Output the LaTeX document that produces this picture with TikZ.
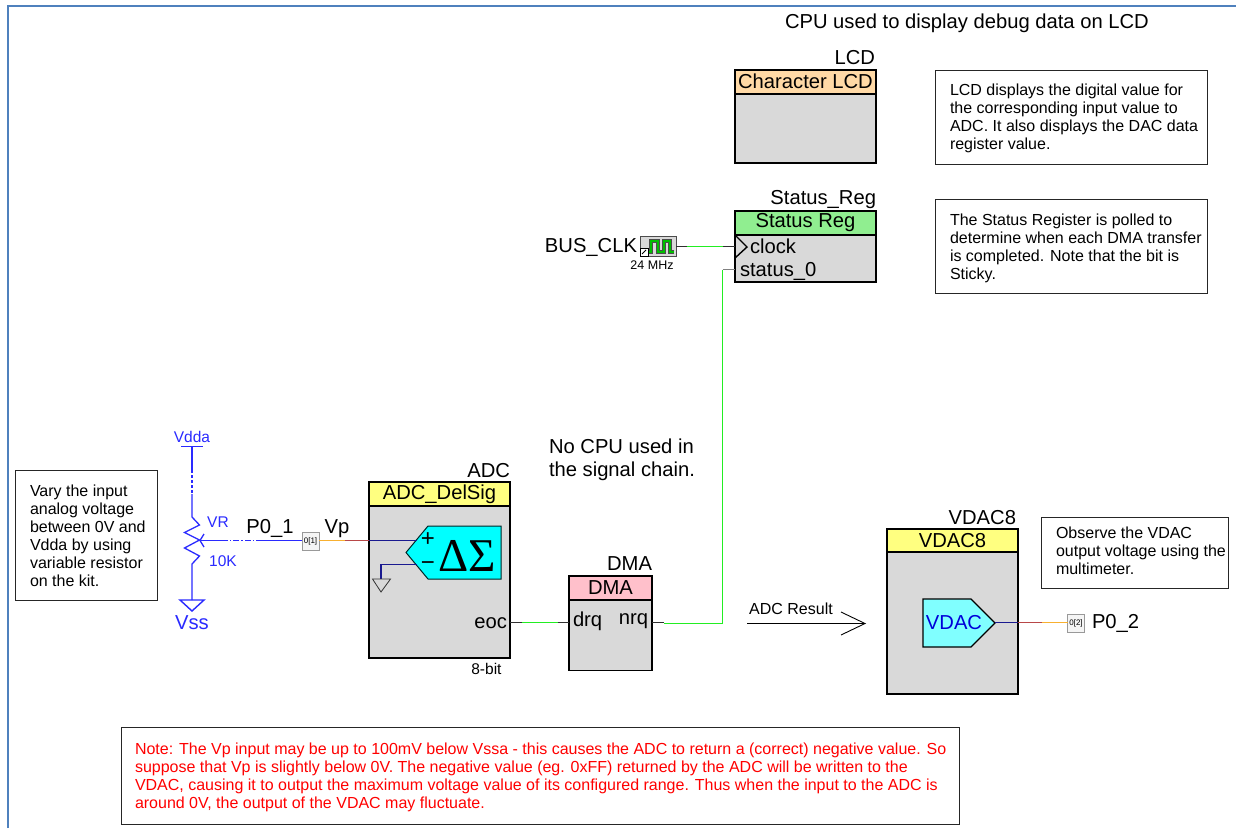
\documentclass[tikz,border=0pt]{standalone}
\usepackage{fontspec}
\setmainfont{Liberation Sans}
\newfontfamily\dsfont{Liberation Serif}
\usetikzlibrary{calc}
\definecolor{frameblue}{HTML}{4F81BD}
\definecolor{bodygrey}{HTML}{D9D9D9}
\definecolor{lcdhead}{HTML}{FFD9A6}
\definecolor{reghead}{HTML}{90EE90}
\definecolor{dmahead}{HTML}{FFC0CB}
\definecolor{yelhead}{HTML}{FFFF80}
\definecolor{netblue}{HTML}{2A2AFF}
\definecolor{wiregreen}{HTML}{22EE22}
\definecolor{wiredark}{HTML}{303030}
\definecolor{wirenavy}{HTML}{1A1A90}
\definecolor{wirered}{HTML}{B84848}
\definecolor{wireorange}{HTML}{F8B030}
\definecolor{dsblue}{HTML}{00FFFF}
\definecolor{vdacfill}{HTML}{80FFFF}
\newcommand{\fs}[1]{\fontsize{#1}{#1}\selectfont}
\tikzset{
  x=1pt,y=-1pt,
  every node/.style={inner sep=0pt,outer sep=0pt},
  bodybox/.style={draw=black,line width=1.6pt,fill=bodygrey,minimum width=#1,anchor=north west},
  headbox/.style={draw=black,line width=1.6pt,minimum width=#1,minimum height=24pt,anchor=north west,font=\fs{20.2}},
  title/.style={font=\fs{20.2},anchor=east},
  port/.style={font=\fs{20.2}},
  note/.style={draw=black!85,line width=0.8pt,fill=white,anchor=north west,minimum width=#1},
  notetext/.style={font=\fontsize{16}{18}\selectfont,align=left,anchor=north west},
  pinbox/.style={draw=black!40,line width=1pt,fill=white!96!black,minimum width=17pt,minimum height=18pt,font=\fs{8}},
  wire/.style={line width=1.5pt},
  thinwire/.style={line width=1.05pt},
  bluewire/.style={netblue,line width=1.3pt},
}
\begin{document}
\begin{tikzpicture}
\useasboundingbox (0,0) rectangle (1236,828);
\fill[white] (0,0) rectangle (1236,828);
\draw[frameblue,line width=2pt] (8,828) -- (8,5.5) -- (1236,5.5);

\node[font=\fs{20.2},anchor=west] (head) at (785,23) {CPU used to display debug data on LCD};
\node[font=\fontsize{20.2}{23}\selectfont,align=left,anchor=north west] (nocpu) at (549,438.5) {No CPU used in\\the signal chain.};

% LCD
\node[bodybox=141pt,minimum height=93pt] (lcd) at (735,70) {};
\node[headbox=141pt,fill=lcdhead] (lcdh) at (735,70) {\raisebox{1pt}{Character LCD}};
\node[title] (lcdt) at (875,58) {LCD};

% Status reg
\node[bodybox=141pt,minimum height=71pt] (reg) at (735,211) {};
\node[headbox=141pt,fill=reghead] (regh) at (735,211) {\raisebox{-1pt}{Status Reg}};
\node[title] (regt) at (876,200) {Status\_Reg};
\node[port,anchor=west] (clockl) at (750,246) {clock};
\node[port,anchor=west] (statusl) at (740,271) {status\_0};
\draw[black,line width=1.4pt,fill=none] (reg.west |- 0,235) -- (747,247) -- (reg.west |- 0,258);

% Clock
\node[draw=black!70,line width=0.8pt,fill=bodygrey,minimum width=36pt,minimum height=20pt,anchor=north west] (clk) at (640,236) {};
\draw[black!70,line width=3.6pt,line join=miter] (646,252) -- (651,252) -- (651,241) -- (658,241) -- (658,252) -- (664,252) -- (664,241) -- (670,241) -- (670,252) -- (674,252);
\draw[green!75!black,line width=2.2pt,line join=miter] (646,252) -- (651,252) -- (651,241) -- (658,241) -- (658,252) -- (664,252) -- (664,241) -- (670,241) -- (670,252) -- (674,252);
\draw[black,fill=white,line width=0.5pt] (640,248) rectangle (648,256);
\draw[black,line width=0.9pt] (642,254) -- (646,250);
\node[title] (busclk) at (637,247) {BUS\_CLK};
\node[font=\fs{12.5}] (mhz) at (652,265.5) {24 MHz};

\draw[wire,wiredark] (clk.east |- 0,246.5) -- (reg.west |- 0,246.5);
\draw[wire,wiregreen,shorten <=11pt,shorten >=12pt] (clk.east |- 0,246.5) -- (reg.west |- 0,246.5);

% ADC
\node[bodybox=141pt,minimum height=176pt] (adc) at (369,482) {};
\node[headbox=141pt,fill=yelhead] (adch) at (369,482) {ADC\_DelSig};
\node[title] (adct) at (510,471) {ADC};
\node[font=\fs{15.5},anchor=east] (eightbit) at (501.5,668.5) {8-bit};
\node[port,anchor=east] (eocl) at (507,623) {eoc};
\draw[black!70!teal,line width=1pt,fill=dsblue] (406,552.5) -- (428,526) -- (501,526) -- (501,579) -- (428,579) -- cycle;
\node[font=\fs{24}] (plus) at (428,539.5) {+};
\node[font=\fs{24}] (minus) at (428,566) {−};
\node[font=\dsfont\fontsize{47}{47}\selectfont] (ds) at (467,556) {ΔΣ};
\coordinate (dsplus) at (417,540.5);
\coordinate (dsminus) at (417,564.5);
\coordinate (gndtop) at (381,579);
\draw[wire,wirenavy] (dsminus) -| (gndtop);
\draw[black!80,line width=0.8pt,fill=none] (372.5,579) -- (390.5,579) -- (381,592) -- cycle;

% Input pin and Vp wire
\node[pinbox] (pin1) at (310.5,541) {0[1]};
\node[port] (vp) at (337,529) {Vp};
\node[port] (p01) at (270,528) {P0\_1};
\draw[wire,wireorange] (pin1.east |- dsplus) -- (345,540.5);
\draw[wire,wirered] (345,540.5) -- (adc.west |- dsplus);
\draw[wire,wirenavy] (adc.west |- dsplus) -- (dsplus);

% Resistor network
\node[font=\fs{15.5},text=netblue] (vdda) at (192,436.5) {Vdda};
\node[font=\fs{20.2},text=netblue] (vss) at (192,623) {Vss};
\node[font=\fs{15.5},text=netblue] (vr) at (218,522) {VR};
\node[font=\fs{15.5},text=netblue] (tenk) at (223,561.5) {10K};
\coordinate (restop) at (192,517);
\coordinate (resbot) at (192,564);
\draw[netblue,line width=1pt] (181,446.5) -- (203,446.5);
\draw[bluewire] (192,446) -- (192,470);
\draw[bluewire,densely dashed] (192,470) -- (192,494);
\draw[bluewire,line join=miter] (192,494) -- (restop) -- (199.5,525) -- (184.5,532.5) -- (199.5,540) -- (184.5,548) -- (199.5,556) -- (resbot) -- (192,600);
\draw[netblue,line width=1.4pt] (180,600) -- (204,600) -- (192,611) -- cycle;
\draw[bluewire] (pin1.west |- dsplus) -- (262,540.5);
\draw[bluewire,dash pattern=on 6pt off 2pt on 1.5pt off 2pt] (262,540.5) -- (228,540.5);
\draw[bluewire] (228,540.5) -- (201,540.5);
\draw[bluewire] (204,534) -- (200,540.5) -- (204,547);

% DMA
\node[bodybox=83pt,minimum height=94.5pt] (dma) at (569,576) {};
\node[headbox=83pt,fill=dmahead] (dmah) at (569,576) {DMA};
\node[title] (dmat) at (652,564) {DMA};
\node[port,anchor=west] (drql) at (573,621) {drq};
\node[port,anchor=east] (nrql) at (648,621) {nrq};

\coordinate (eocw) at (522,622.9);
\coordinate (drqw) at (558,622.9);
\draw[thinwire,wiredark] (adc.east |- eocw) -- (eocw);
\draw[thinwire,wiregreen] (eocw) -- (drqw);
\draw[thinwire,wiredark] (drqw) -- (dma.west |- drqw);
\coordinate (bend) at (722.5,623.5);
\coordinate (bendtop) at (722.5,269.5);
\coordinate (nrqw) at (664,622.9);
\draw[thinwire,wiredark] (dma.east |- nrqw) -- (nrqw);
\draw[wire,wiregreen] (664,623.5) -- (bend) -- (bendtop);
\draw[wire,black!50] (bendtop) -- (reg.west |- bendtop);

% ADC result arrow
\node[font=\fs{16}] (adcres) at (791,609) {ADC Result};
\coordinate (resa) at (747,623.5);
\coordinate (resb) at (865,623.5);
\draw[black,line width=0.9pt] (resa) -- (resb);
\draw[black,line width=0.9pt] (841,612) -- (resb) -- (841,635);

% VDAC8
\node[bodybox=131pt,minimum height=165pt] (vdac) at (887,529) {};
\node[headbox=131pt,fill=yelhead,minimum height=23pt] (vdach) at (887,529) {VDAC8};
\node[title] (vdact) at (1016,517.5) {VDAC8};
\draw[black,line width=1.3pt,fill=vdacfill] (923,599) -- (971,599) -- (995,623) -- (971,647) -- (923,647) -- cycle;
\node[font=\fs{20.2},text=blue!85!black] (vdacl) at (954,623) {VDAC};
\coordinate (vout) at (995,622.9);
\coordinate (vmid) at (1042,622.9);
\node[pinbox] (pin2) at (1076,623) {0[2]};
\node[port,anchor=west] (p02) at (1092,623.5) {P0\_2};
\draw[thinwire,wirenavy] (vout) -- (vdac.east |- vout);
\draw[thinwire,wirered] (vdac.east |- vout) -- (vmid);
\draw[thinwire,wireorange] (vmid) -- (pin2.west |- vout);

% Notes
\node[note=272pt,minimum height=94pt] (n1) at (935,70) {};
\node[notetext] (n1t) at (950,84) {LCD displays the digital value for\\the corresponding input value to\\ADC. It also displays the DAC data\\register value.};
\node[note=272pt,minimum height=94pt] (n2) at (935,199) {};
\node[notetext] (n2t) at (950,213.5) {The Status Register is polled to\\determine when each DMA transfer\\is completed. Note that the bit is\\Sticky.};
\node[note=187pt,minimum height=71pt] (n3) at (1041,517) {};
\node[notetext] (n3t) at (1056,526.5) {Observe the VDAC\\output voltage using the\\multimeter.};
\node[note=142pt,minimum height=130pt] (n4) at (15,470) {};
\node[notetext] (n4t) at (30,485) {Vary the input\\analog voltage\\between 0V and\\Vdda by using\\variable resistor\\on the kit.};
\node[note=838pt,minimum height=97pt] (n5) at (121,727) {};
\node[notetext,text=red] (n5t) at (135,743) {Note: The Vp input may be up to 100mV below Vssa - this causes the ADC to return a (correct) negative value. So\\suppose that Vp is slightly below 0V. The negative value (eg. 0xFF) returned by the ADC will be written to the\\VDAC, causing it to output the maximum voltage value of its configured range. Thus when the input to the ADC is\\around 0V, the output of the VDAC may fluctuate.};
\end{tikzpicture}
\end{document}
